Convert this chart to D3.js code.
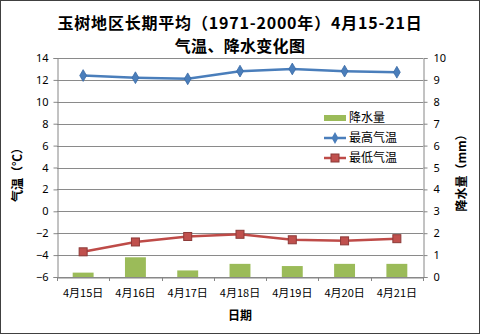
<!DOCTYPE html>
<html>
<head>
<meta charset="utf-8">
<script src="https://cdn.jsdelivr.net/npm/d3@7"></script>
<style>
  html, body { margin: 0; padding: 0; background: #fff; }
  svg { display: block; }
  text { font-family: "Noto Sans CJK SC", "Noto Sans", sans-serif; fill: #000; }
</style>
</head>
<body>
<svg id="chart" width="480" height="334"></svg>
<script>
// Daily averages, Yushu 1971-2000, April 15-21
const dates = ["4月15日", "4月16日", "4月17日", "4月18日", "4月19日", "4月20日", "4月21日"];
const precip = [0.2, 0.9, 0.3, 0.6, 0.5, 0.6, 0.6];          // 降水量 (mm)
const tMax = [12.4, 12.2, 12.1, 12.8, 13.0, 12.8, 12.7];      // 最高气温 (℃)
const tMin = [-3.7, -2.8, -2.3, -2.1, -2.6, -2.7, -2.5];      // 最低气温 (℃)
const tempTicks = [-6, -4, -2, 0, 2, 4, 6, 8, 10, 12, 14];
const precipTicks = [0, 1, 2, 3, 4, 5, 6, 7, 8, 9, 10];
const titleLines = ["玉树地区长期平均（1971-2000年）4月15-21日", "气温、降水变化图"];

const svg = d3.select("#chart");
const W = 480, H = 334;
const plot = { left: 57, right: 423, top: 58, bottom: 277 };

const colors = { bar: "#9BBB59", max: "#4A7EBB", maxMark: "#4A7EBB", min: "#BE4B48", minEdge: "#8C3A38", grid: "#8A8A8A", axis: "#868686" };

// outer frame
svg.append("rect").attr("x", 0.5).attr("y", 0.5).attr("width", W - 1).attr("height", H - 1)
  .attr("fill", "#fff").attr("stroke", "#404040").attr("stroke-width", 1);

const x = d3.scaleBand().domain(dates).range([plot.left, plot.right]);
const yT = d3.scaleLinear().domain([-6, 14]).range([plot.bottom, plot.top]);
const yP = d3.scaleLinear().domain([0, 10]).range([plot.bottom, plot.top]);

// two-line title
svg.append("g").selectAll("text").data(titleLines).join("text")
  .attr("x", 240).attr("y", (d, i) => 28.5 + i * 23.5)
  .attr("text-anchor", "middle").attr("font-size", 16).attr("font-weight", "bold")
  .attr("letter-spacing", (d, i) => i === 0 ? 0.8 : 0.3)
  .text(d => d);

// gridlines
svg.append("g").selectAll("line").data(tempTicks).join("line")
  .attr("x1", plot.left).attr("x2", plot.right)
  .attr("y1", d => Math.round(yT(d)) + 0.5).attr("y2", d => Math.round(yT(d)) + 0.5)
  .attr("stroke", colors.grid).attr("stroke-width", 1);

// left axis
const leftAxis = d3.axisLeft(yT).tickValues(tempTicks).tickSize(4).tickPadding(5);
const gL = svg.append("g").attr("transform", `translate(${plot.left + 0.5},0)`).call(leftAxis);
gL.select(".domain").attr("stroke", colors.axis);
gL.selectAll(".tick line").attr("stroke", colors.axis);
gL.selectAll(".tick text").attr("font-size", 11).style("font-family", '"Noto Sans", sans-serif');

// right axis
const rightAxis = d3.axisRight(yP).tickValues(precipTicks).tickSize(4).tickPadding(6);
const gR = svg.append("g").attr("transform", `translate(${plot.right + 0.5},0)`).call(rightAxis);
gR.select(".domain").attr("stroke", colors.axis);
gR.selectAll(".tick line").attr("stroke", colors.axis);
gR.selectAll(".tick text").attr("font-size", 11).style("font-family", '"Noto Sans", sans-serif');

// bars (precipitation, right axis)
const barW = x.bandwidth() / 2.5;
svg.append("g").selectAll("rect").data(precip).join("rect")
  .attr("x", (d, i) => x(dates[i]) + (x.bandwidth() - barW) / 2)
  .attr("y", d => yP(d))
  .attr("width", barW)
  .attr("height", d => yP(0) - yP(d))
  .attr("fill", colors.bar);

// x axis
const bottomAxis = d3.axisBottom(x).tickSize(0).tickPadding(12);
const gB = svg.append("g").attr("transform", `translate(0,${plot.bottom + 0.5})`).call(bottomAxis);
gB.select(".domain").attr("stroke", colors.axis);
gB.selectAll(".tick text").attr("font-size", 11);
// category separators
svg.append("g").selectAll("line").data(d3.range(dates.length + 1)).join("line")
  .attr("x1", i => Math.round(plot.left + i * x.step()) + 0.5)
  .attr("x2", i => Math.round(plot.left + i * x.step()) + 0.5)
  .attr("y1", plot.bottom).attr("y2", plot.bottom + 4)
  .attr("stroke", colors.axis);

const cx = (d, i) => x(dates[i]) + x.bandwidth() / 2;

// max temperature line
svg.append("path").datum(tMax)
  .attr("d", d3.line().x(cx).y(d => yT(d)))
  .attr("fill", "none").attr("stroke", colors.max).attr("stroke-width", 2.5);
svg.append("g").selectAll("path").data(tMax).join("path")
  .attr("transform", (d, i) => `translate(${cx(d, i)},${yT(d)})`)
  .attr("d", d3.symbol(d3.symbolDiamond, 40))
  .attr("fill", colors.maxMark).attr("stroke", "#3A6AA5").attr("stroke-width", 0.8);

// min temperature line
svg.append("path").datum(tMin)
  .attr("d", d3.line().x(cx).y(d => yT(d)))
  .attr("fill", "none").attr("stroke", colors.min).attr("stroke-width", 2.5);
svg.append("g").selectAll("rect").data(tMin).join("rect")
  .attr("x", (d, i) => cx(d, i) - 4).attr("y", d => yT(d) - 4)
  .attr("width", 8).attr("height", 8)
  .attr("fill", "#C0504D").attr("stroke", colors.minEdge).attr("stroke-width", 1);

// legend
const lg = svg.append("g").attr("transform", "translate(324,0)");
lg.append("rect").attr("x", 0).attr("y", 115).attr("width", 22).attr("height", 6).attr("fill", colors.bar);
lg.append("line").attr("x1", 0).attr("x2", 22).attr("y1", 138).attr("y2", 138).attr("stroke", colors.max).attr("stroke-width", 2.5);
lg.append("path").attr("transform", "translate(11,138)").attr("d", d3.symbol(d3.symbolDiamond, 40)).attr("fill", colors.maxMark);
lg.append("line").attr("x1", 0).attr("x2", 22).attr("y1", 158).attr("y2", 158).attr("stroke", colors.min).attr("stroke-width", 2.5);
lg.append("rect").attr("x", 7).attr("y", 154).attr("width", 8).attr("height", 8).attr("fill", "#C0504D").attr("stroke", colors.minEdge);
lg.selectAll("text.lab").data(["降水量", "最高气温", "最低气温"]).join("text")
  .attr("class", "lab").attr("x", 25).attr("y", (d, i) => 118 + i * 20).attr("dy", "0.35em")
  .attr("font-size", 12).text(d => d);

// axis titles
svg.append("text").attr("transform", "translate(22,172) rotate(-90)")
  .attr("text-anchor", "middle").attr("font-size", 12).attr("font-weight", "bold").text("气温（℃）");
svg.append("text").attr("transform", "translate(466,170) rotate(-90)")
  .attr("text-anchor", "middle").attr("font-size", 12).attr("font-weight", "bold").text("降水量（mm）");
svg.append("text").attr("x", 240).attr("y", 320)
  .attr("text-anchor", "middle").attr("font-size", 12).attr("font-weight", "bold").text("日期");
</script>
</body>
</html>
